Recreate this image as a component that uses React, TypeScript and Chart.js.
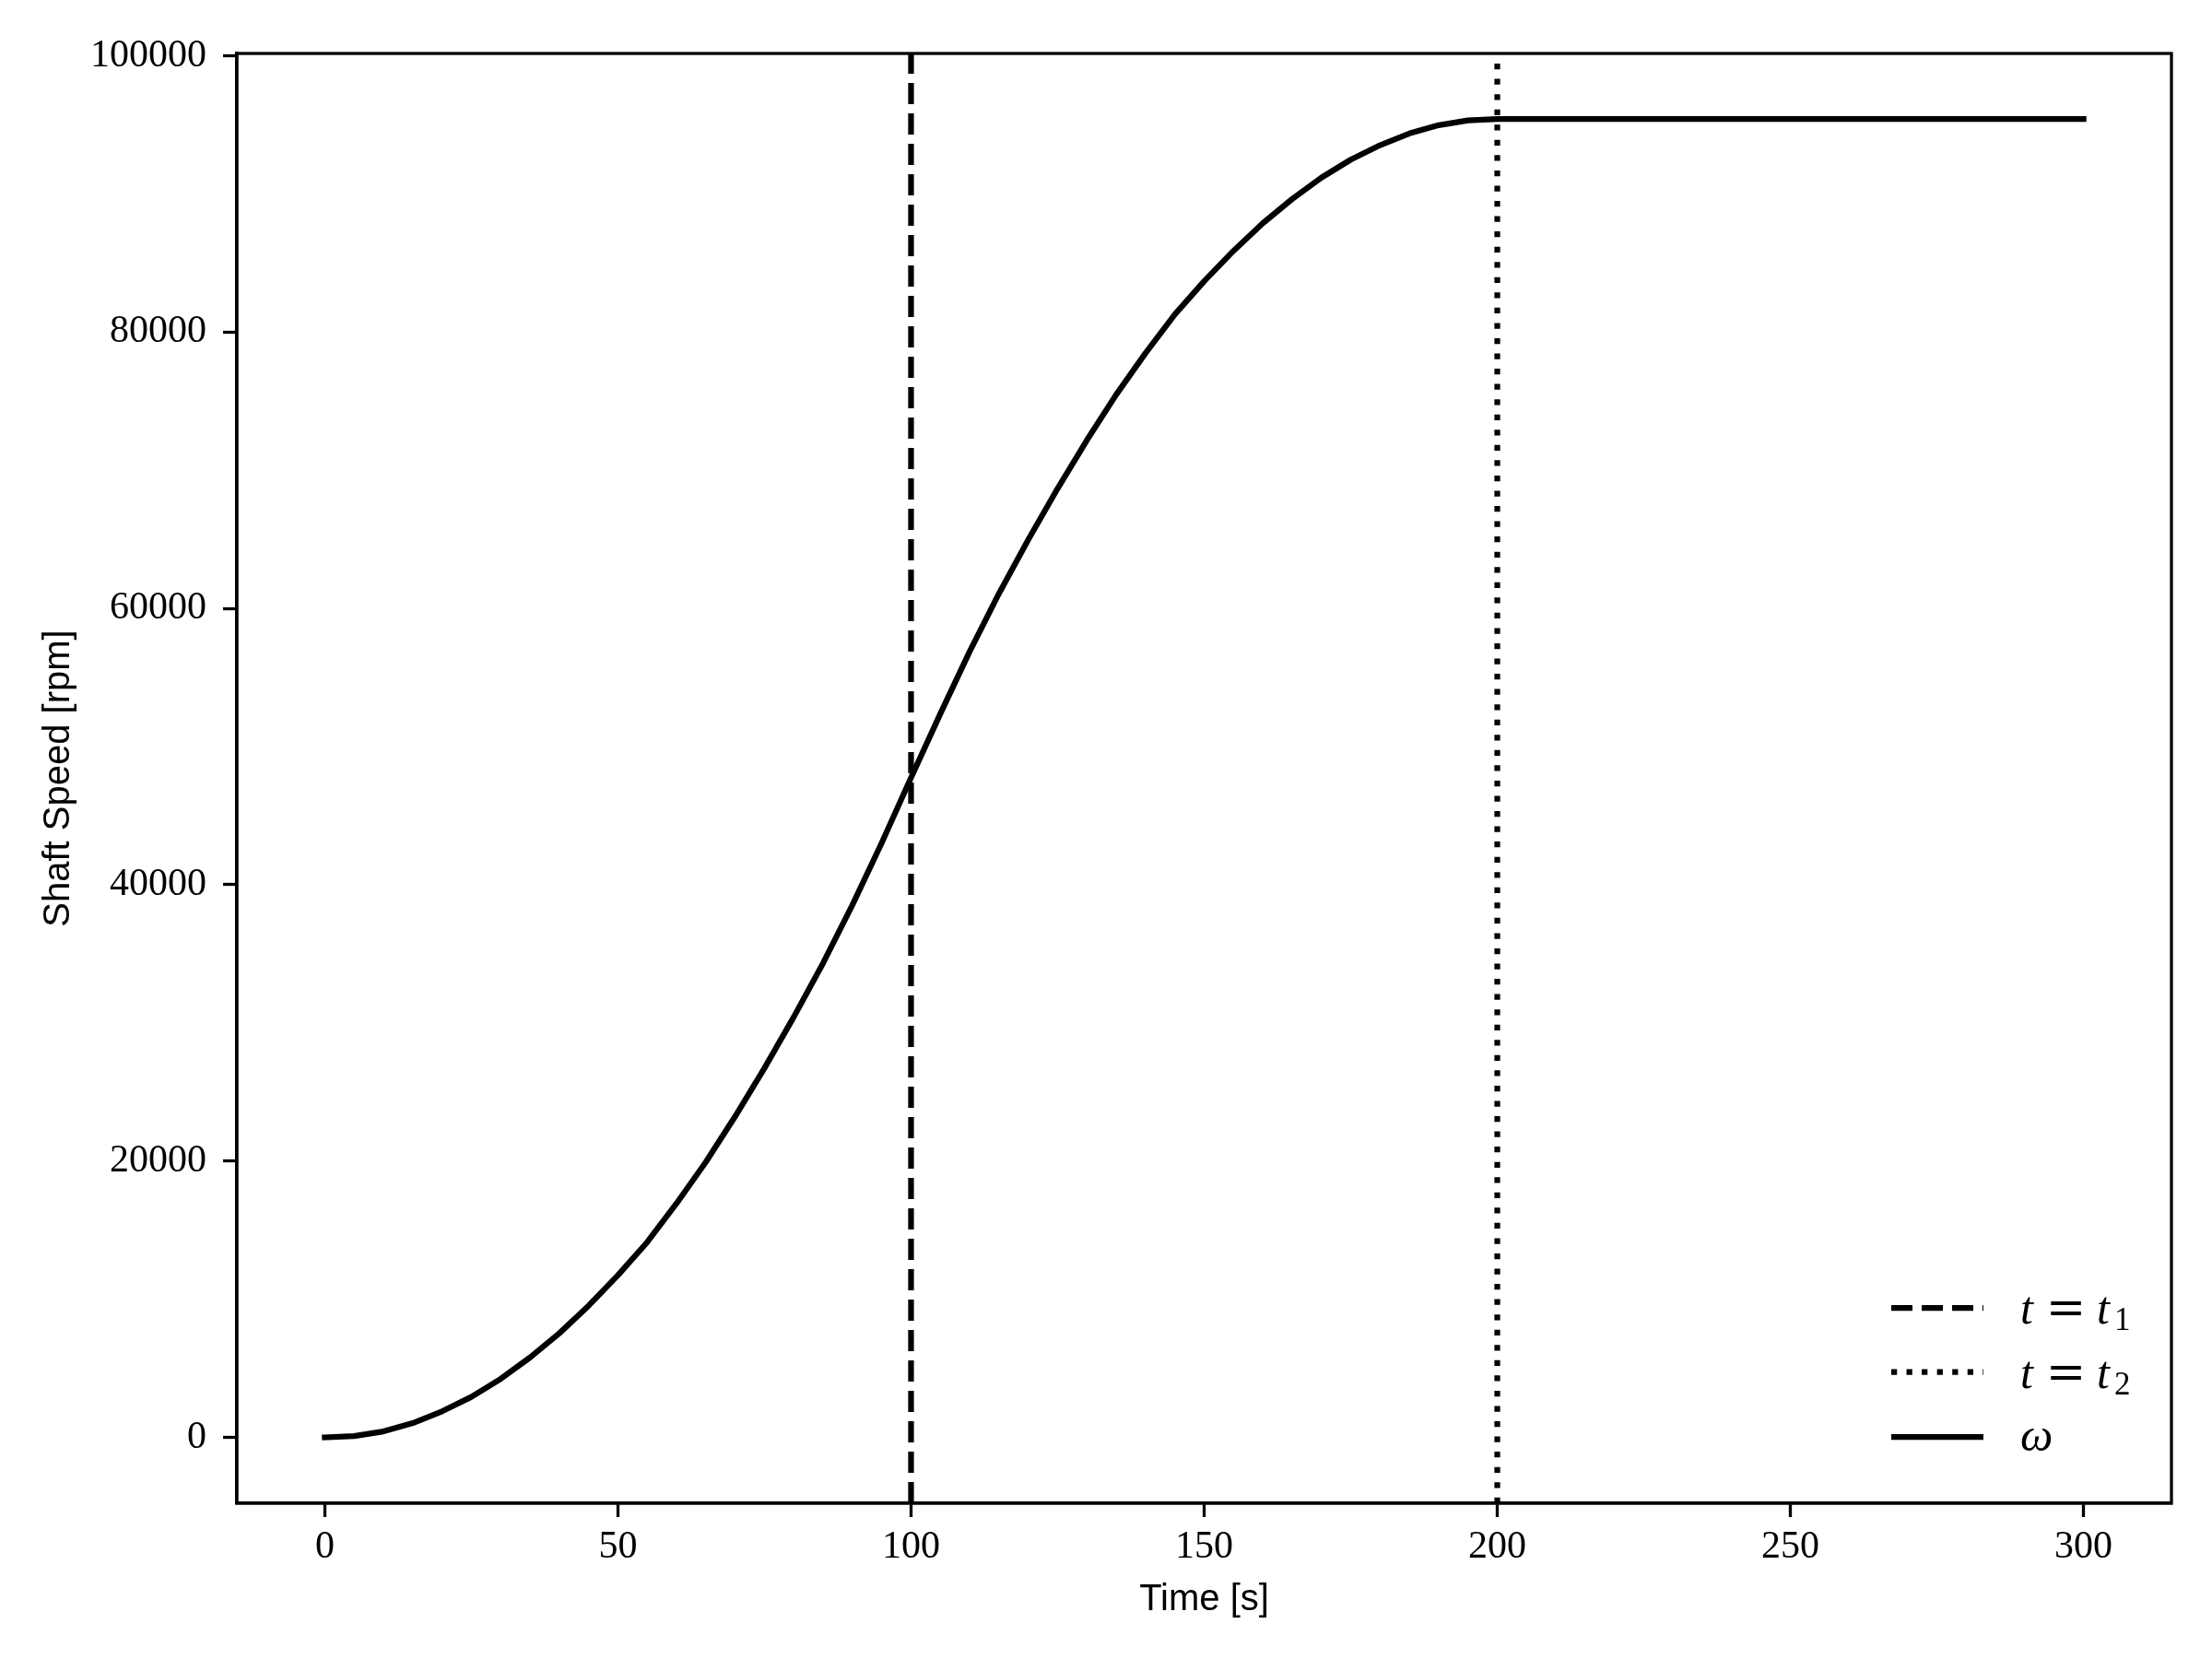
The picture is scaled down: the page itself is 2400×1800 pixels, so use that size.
import React, { useEffect, useRef } from "react";
import { Chart, registerables } from "chart.js";

Chart.register(...registerables);

// Time samples [s] and shaft speed [rpm]
const TIME = [
  0, 5, 10, 15, 20, 25, 30, 35, 40, 45, 50, 55, 60, 65, 70, 75, 80, 85, 90, 95,
  100, 105, 110, 115, 120, 125, 130, 135, 140, 145, 150, 155, 160, 165, 170, 175,
  180, 185, 190, 195, 200, 250, 300,
];
const OMEGA = [
  0, 90, 430, 1030, 1880, 2930, 4230, 5780, 7530, 9530, 11730, 14130, 16930,
  19930, 23230, 26730, 30430, 34330, 38530, 43030, 47750, 52380, 56880, 61080,
  64980, 68680, 72180, 75480, 78480, 81280, 83680, 85880, 87880, 89630, 91180,
  92480, 93530, 94380, 94980, 95330, 95420, 95420, 95420,
];

const T1 = 100;
const T2 = 200;

const X_TICKS = [0, 50, 100, 150, 200, 250, 300];
const Y_TICKS = [0, 20000, 40000, 60000, 80000, 100000];
const X_MIN = -15;
const X_MAX = 315;
const Y_MIN = -4770;
const Y_MAX = 100170;

const LEGEND_LABELS = [
  { kind: "t", sub: "1" },
  { kind: "t", sub: "2" },
  { kind: "w", sub: "" },
];

const LW = 6.25;
const AXW = 3.3;
const DASH = [23, 10];
const DOT = [6.25, 10.3];

const frameAndLegend = {
  id: "frameAndLegend",
  afterDraw(chart: any) {
    const { ctx, chartArea } = chart;
    ctx.save();
    // full axes frame (top & right spines)
    ctx.strokeStyle = "#000";
    ctx.lineWidth = AXW;
    ctx.setLineDash([]);
    ctx.strokeRect(chartArea.left, chartArea.top, chartArea.right - chartArea.left, chartArea.bottom - chartArea.top);

    // legend
    const x0 = chartArea.right - 304;
    const x1 = x0 + 100;
    const tx = x1 + 40;
    const rowsY = [chartArea.bottom - 212, chartArea.bottom - 142.5, chartArea.bottom - 72];
    const dashes = [DASH, DOT, []];
    LEGEND_LABELS.forEach((lab, i) => {
      const y = rowsY[i];
      ctx.beginPath();
      ctx.setLineDash(dashes[i]);
      ctx.lineCap = "butt";
      ctx.lineWidth = LW;
      ctx.strokeStyle = "#000";
      ctx.moveTo(x0, y);
      ctx.lineTo(x1, y);
      ctx.stroke();
      ctx.setLineDash([]);
      ctx.fillStyle = "#000";
      ctx.textBaseline = "alphabetic";
      const by = y + 17;
      if (lab.kind === "t") {
        ctx.font = 'italic 50px "Liberation Serif"';
        ctx.textAlign = "left";
        ctx.fillText("t", tx, by);
        ctx.font = '52px "DejaVu Serif"';
        ctx.textAlign = "center";
        ctx.fillText("=", tx + 49.5, by);
        ctx.font = 'italic 50px "Liberation Serif"';
        ctx.textAlign = "left";
        ctx.fillText("t", tx + 83, by);
        ctx.font = '35px "Liberation Serif"';
        ctx.fillText(lab.sub, tx + 102, by + 7);
      } else {
        ctx.font = 'italic 50px "Liberation Serif"';
        ctx.textAlign = "left";
        ctx.fillText("ω", tx, by - 2);
      }
    });
    ctx.restore();
  },
};

export default function App() {
  const ref = useRef<HTMLCanvasElement | null>(null);
  useEffect(() => {
    if (!ref.current) return;
    const curve = TIME.map((t, i) => ({ x: t, y: OMEGA[i] }));
    const chart = new Chart(ref.current, {
      type: "line",
      data: {
        datasets: [
          {
            label: "ω",
            data: curve,
            borderColor: "#000",
            borderWidth: LW,
            pointRadius: 0,
            tension: 0,
            fill: false,
            borderCapStyle: "square",
            borderJoinStyle: "round",
          },
          {
            label: "t = t1",
            data: [
              { x: T1, y: Y_MIN },
              { x: T1, y: Y_MAX },
            ],
            borderColor: "#000",
            borderWidth: LW,
            borderDash: DASH,
            borderCapStyle: "butt",
            pointRadius: 0,
            fill: false,
          },
          {
            label: "t = t2",
            data: [
              { x: T2, y: Y_MIN },
              { x: T2, y: Y_MAX },
            ],
            borderColor: "#000",
            borderWidth: LW,
            borderDash: DOT,
            borderCapStyle: "butt",
            pointRadius: 0,
            fill: false,
          },
        ],
      },
      options: {
        animation: false,
        responsive: false,
        devicePixelRatio: 1,
        layout: { padding: { left: 0, top: 58, right: 44, bottom: 0 } },
        plugins: { legend: { display: false }, tooltip: { enabled: false } },
        scales: {
          x: {
            type: "linear",
            min: X_MIN,
            max: X_MAX,
            afterBuildTicks: (s: any) => {
              s.ticks = X_TICKS.map((v) => ({ value: v }));
            },
            afterFit: (s: any) => {
              s.height = 169;
            },
            grid: {
              drawOnChartArea: false,
              drawTicks: true,
              tickLength: 15,
              tickWidth: AXW,
              tickColor: "#000",
              color: "#000",
            },
            border: { display: true, color: "#000", width: AXW },
            ticks: {
              color: "#000",
              font: { family: "Liberation Serif", size: 42 },
              padding: 8,
              maxRotation: 0,
              autoSkip: false,
              callback: (v: any) => String(v),
            },
            title: {
              display: true,
              text: "Time [s]",
              color: "#000",
              font: { family: "Liberation Sans", size: 40 },
              padding: { top: 0, bottom: 40 },
            },
          },
          y: {
            type: "linear",
            min: Y_MIN,
            max: Y_MAX,
            afterBuildTicks: (s: any) => {
              s.ticks = Y_TICKS.map((v) => ({ value: v }));
            },
            afterFit: (s: any) => {
              s.width = 257;
            },
            grid: {
              drawOnChartArea: false,
              drawTicks: true,
              tickLength: 15,
              tickWidth: AXW,
              tickColor: "#000",
              color: "#000",
            },
            border: { display: true, color: "#000", width: AXW },
            ticks: {
              color: "#000",
              font: { family: "Liberation Serif", size: 42 },
              padding: 18,
              autoSkip: false,
              callback: (v: any) => String(v),
            },
            title: {
              display: true,
              text: "Shaft Speed [rpm]",
              color: "#000",
              font: { family: "Liberation Sans", size: 40 },
              padding: { top: 40, bottom: 0 },
            },
          },
        },
      },
      plugins: [frameAndLegend],
    } as any);
    return () => chart.destroy();
  }, []);
  return (
    <div style={{ position: "absolute", left: 0, top: 0, width: 2400, height: 1800, background: "#fff" }}>
      <canvas ref={ref} width={2400} height={1800} style={{ width: 2400, height: 1800, display: "block" }} />
    </div>
  );
}
